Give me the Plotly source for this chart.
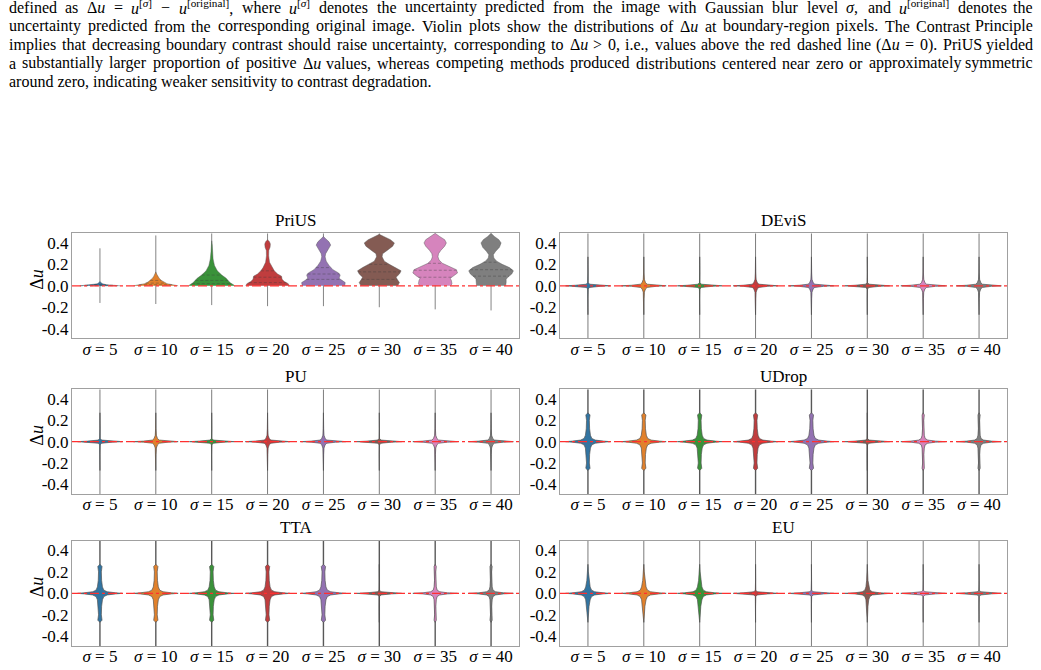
import re
import numpy as np
import plotly.graph_objects as go

W, H = 1041, 670

categories = ["<i>σ</i> = 5", "<i>σ</i> = 10", "<i>σ</i> = 15", "<i>σ</i> = 20",
              "<i>σ</i> = 25", "<i>σ</i> = 30", "<i>σ</i> = 35", "<i>σ</i> = 40"]
methods = ["PriUS", "DEviS", "PU", "UDrop", "TTA", "EU"]
colors = ["#3274a1", "#e1812c", "#3a923a", "#c03d3e", "#9372b2", "#845b53", "#d684bd", "#7f7f7f"]

# ---- PriUS: density profiles (delta-u level, half-width in category units) ----
prius_y = [
    [0, 0.004, 0.01, 0.018, 0.028, 0.04],
    [0, 0.01, 0.02, 0.035, 0.05, 0.07, 0.09, 0.11, 0.13],
    [0, 0.01, 0.025, 0.045, 0.07, 0.1, 0.14, 0.19, 0.25, 0.32, 0.38, 0.42],
    [0, 0.02, 0.04, 0.06, 0.09, 0.11, 0.14, 0.17, 0.22, 0.28, 0.33, 0.36, 0.39, 0.41, 0.43],
    [0, 0.03, 0.05, 0.07, 0.1, 0.12, 0.15, 0.19, 0.23, 0.27, 0.3, 0.34, 0.38, 0.41, 0.44, 0.46],
    [0, 0.03, 0.06, 0.08, 0.11, 0.14, 0.17, 0.2, 0.23, 0.27, 0.3, 0.33, 0.37, 0.4, 0.43, 0.46, 0.48],
    [0, 0.02, 0.05, 0.07, 0.09, 0.12, 0.15, 0.18, 0.21, 0.24, 0.27, 0.3, 0.33, 0.37, 0.4, 0.43, 0.46, 0.49],
    [0, 0.03, 0.06, 0.08, 0.11, 0.14, 0.17, 0.2, 0.23, 0.26, 0.29, 0.32, 0.36, 0.4, 0.43, 0.46, 0.49],
]
prius_w = [
    [0.36, 0.3, 0.12, 0.05, 0.02, 0],
    [0.4, 0.3, 0.2, 0.14, 0.1, 0.06, 0.035, 0.015, 0],
    [0.41, 0.39, 0.34, 0.3, 0.26, 0.18, 0.1, 0.05, 0.025, 0.012, 0.01, 0],
    [0.39, 0.37, 0.3, 0.26, 0.25, 0.18, 0.12, 0.08, 0.035, 0.02, 0.022, 0.045, 0.05, 0.035, 0],
    [0.38, 0.39, 0.33, 0.28, 0.3, 0.27, 0.17, 0.1, 0.05, 0.03, 0.04, 0.09, 0.13, 0.1, 0.04, 0],
    [0.33, 0.36, 0.32, 0.3, 0.36, 0.39, 0.3, 0.18, 0.09, 0.05, 0.06, 0.14, 0.24, 0.27, 0.2, 0.08, 0],
    [0.28, 0.3, 0.29, 0.27, 0.33, 0.4, 0.38, 0.25, 0.13, 0.07, 0.05, 0.06, 0.1, 0.17, 0.2, 0.17, 0.08, 0],
    [0.26, 0.27, 0.27, 0.3, 0.37, 0.4, 0.33, 0.2, 0.1, 0.05, 0.04, 0.08, 0.15, 0.18, 0.14, 0.06, 0],
]
prius_q1 = [0.0, 0.01, 0.02, 0.03, 0.06, 0.06, 0.08, 0.09]
prius_med = [0.005, 0.025, 0.05, 0.08, 0.11, 0.13, 0.145, 0.15]
prius_q3 = [0.012, 0.05, 0.1, 0.14, 0.17, 0.2, 0.21, 0.22]
prius_lo = [-0.16, -0.17, -0.18, -0.19, -0.19, -0.2, -0.22, -0.23]
prius_hi = [0.35, 0.47, 0.49, 0.49, 0.49, 0.49, 0.49, 0.49]

# ---- Other methods: spike-shaped profiles on a shared grid ----
star_y = [-0.27, -0.25, -0.2, -0.12, -0.06, -0.03, -0.015, -0.005, 0,
          0.005, 0.015, 0.03, 0.06, 0.12, 0.2, 0.25, 0.27]
shape_flat = [0, 0, 0, 0, 0, 0.004, 0.03, 0.22, 0.4, 0.22, 0.03, 0.004, 0, 0, 0, 0, 0]
shape_star = [0, 0, 0, 0.004, 0.01, 0.03, 0.06, 0.22, 0.4, 0.22, 0.06, 0.03, 0.01, 0.004, 0, 0, 0]
shape_bulb = [0, 0.038, 0.025, 0.03, 0.045, 0.07, 0.13, 0.28, 0.4, 0.28, 0.13, 0.07, 0.045, 0.03, 0.025, 0.038, 0]
shape_thinbulb = [0, 0.02, 0.01, 0.012, 0.02, 0.035, 0.08, 0.22, 0.4, 0.22, 0.08, 0.035, 0.02, 0.012, 0.01, 0.02, 0]
shape_taper = [0, 0.003, 0.008, 0.02, 0.04, 0.065, 0.12, 0.27, 0.4, 0.27, 0.12, 0.065, 0.04, 0.02, 0.008, 0.003, 0]
shape_thintaper = [0, 0.002, 0.005, 0.012, 0.025, 0.045, 0.09, 0.22, 0.4, 0.22, 0.09, 0.045, 0.025, 0.012, 0.005, 0.002, 0]
shapes = {"flat": shape_flat, "star": shape_star, "bulb": shape_bulb,
          "thinbulb": shape_thinbulb, "taper": shape_taper, "thintaper": shape_thintaper}

devis_shapes = ["flat", "star", "flat", "star", "star", "flat", "star", "star"]
pu_shapes = ["flat", "star", "flat", "star", "star", "flat", "star", "star"]
udrop_shapes = ["bulb", "bulb", "bulb", "bulb", "bulb", "flat", "thinbulb", "thinbulb"]
tta_shapes = ["bulb", "bulb", "bulb", "bulb", "bulb", "flat", "thinbulb", "thinbulb"]
eu_shapes = ["taper", "taper", "taper", "flat", "flat", "thintaper", "flat", "flat"]
other_lo = [-0.49, -0.49, -0.49, -0.49, -0.49, -0.49, -0.49, -0.49]
other_hi = [0.49, 0.49, 0.49, 0.49, 0.49, 0.49, 0.49, 0.49]

ytick_vals = [-0.4, -0.2, 0.0, 0.2, 0.4]
ytick_text = ["-0.4", "-0.2", "0.0", "0.2", "0.4"]

caption_lines = [
    "defined as Δ<i>u</i> = <i>u</i><sup>[<i>σ</i>]</sup> − <i>u</i><sup>[original]</sup>, where <i>u</i><sup>[<i>σ</i>]</sup> denotes the uncertainty predicted from the image with Gaussian blur level <i>σ</i>, and <i>u</i><sup>[original]</sup> denotes the",
    "uncertainty predicted from the corresponding original image. Violin plots show the distributions of Δ<i>u</i> at boundary-region pixels. The Contrast Principle",
    "implies that decreasing boundary contrast should raise uncertainty, corresponding to Δ<i>u</i> > 0, i.e., values above the red dashed line (Δ<i>u</i> = 0). PriUS yielded",
    "a substantially larger proportion of positive Δ<i>u</i> values, whereas competing methods produced distributions centered near zero or approximately symmetric",
    "around zero, indicating weaker sensitivity to contrast degradation.",
]
caption_justify = [True, True, True, True, False]

# ---- layout geometry (pixels) ----
col_x = [(72, 519), (560, 1007)]
row_y = [(233.3, 338.3), (389.3, 494.0), (540.7, 646.0)]
caption_y = [7.5, 26.5, 45, 63.5, 82]
cap_left, cap_right, cap_size = 8, 1034, 16
FONT = "Liberation Serif, Times New Roman, serif"

# Times-metric advance widths (per 1000 em) used to justify caption lines
_tw = dict(zip("abcdefghijklmnopqrstuvwxyz",
               [444, 500, 444, 500, 444, 333, 500, 500, 278, 278, 500, 278, 778, 500, 500, 500, 500,
                333, 389, 278, 500, 500, 722, 500, 500, 444]))
_tw.update(dict(zip("ABCDEFGHIJKLMNOPQRSTUVWXYZ",
                    [722, 667, 667, 722, 611, 556, 722, 722, 333, 389, 722, 611, 889, 722, 722, 556,
                     722, 667, 556, 611, 722, 722, 944, 722, 722, 611])))
_tw.update({c: 500 for c in "0123456789"})
_tw.update({" ": 250, ".": 250, ",": 250, "-": 333, "(": 333, ")": 333, "[": 333, "]": 333,
            "=": 564, ">": 564, "−": 564, "Δ": 612, "σ": 560})


def text_width(html, size):
    w, sup = 0.0, False
    for tok in re.split(r"(<[^>]+>)", html):
        if tok.startswith("<"):
            if tok == "<sup>":
                sup = True
            elif tok == "</sup>":
                sup = False
            continue
        for ch in tok:
            w += _tw.get(ch, 500) / 1000 * size * (0.7 if sup else 1.0)
    return w


fig = go.Figure()
layout = dict(width=W, height=H, margin=dict(l=0, r=0, t=0, b=0),
              paper_bgcolor="white", plot_bgcolor="white", showlegend=False,
              font=dict(family=FONT, size=16, color="black"))
annotations = []

per_method_shapes = {"DEviS": devis_shapes, "PU": pu_shapes, "UDrop": udrop_shapes,
                     "TTA": tta_shapes, "EU": eu_shapes}

for k, m in enumerate(methods):
    r, c = k // 2, k % 2
    sfx = "" if k == 0 else str(k + 1)
    xa, ya = "x" + sfx, "y" + sfx
    x0, x1 = col_x[c]
    yt, yb = row_y[r]
    layout["xaxis" + sfx] = dict(domain=[x0 / W, x1 / W], range=[-0.5, 7.5], anchor=ya,
                                 tickvals=list(range(len(categories))), ticktext=categories,
                                 showline=True, mirror=True, linecolor="#a0a0a0", linewidth=1,
                                 showgrid=False, zeroline=False, ticks="", ticklabelstandoff=-5,
                                 tickfont=dict(family=FONT, size=17, color="black"))
    layout["yaxis" + sfx] = dict(domain=[1 - yb / H, 1 - yt / H], range=[-0.49, 0.49], anchor=xa,
                                 tickvals=ytick_vals, ticktext=ytick_text,
                                 showline=True, mirror=True, linecolor="#a0a0a0", linewidth=1,
                                 showgrid=False, zeroline=False, ticks="", ticklabelstandoff=-1,
                                 tickfont=dict(family=FONT, size=17, color="black"))
    annotations.append(dict(text=m, xref="paper", yref="paper", x=(x0 + x1) / 2 / W,
                            y=1 - (yt - 13) / H, xanchor="center", yanchor="middle",
                            showarrow=False, font=dict(family=FONT, size=17, color="black")))
    if c == 0:
        annotations.append(dict(text="Δ<i>u</i>", xref="paper", yref="paper", x=37 / W,
                                y=1 - ((yt + yb) / 2 - 6) / H, xanchor="center", yanchor="middle",
                                textangle=-90, showarrow=False,
                                font=dict(family=FONT, size=18, color="black")))

    if m == "PriUS":
        lo, hi = prius_lo, prius_hi
        wcol, wwid = "rgba(120,120,120,0.9)", 1.0
    elif m in ("UDrop", "TTA"):
        lo, hi = other_lo, other_hi
        wcol, wwid = "rgba(70,70,70,0.9)", 1.4
    else:
        lo, hi = other_lo, other_hi
        wcol, wwid = "rgba(110,110,110,0.9)", 1.0
    # whiskers
    for i in range(len(categories)):
        fig.add_trace(go.Scatter(x=[i, i], y=[lo[i], hi[i]], mode="lines",
                                 line=dict(color=wcol, width=wwid),
                                 xaxis=xa, yaxis=ya, hoverinfo="skip"))
    # violins
    for i in range(len(categories)):
        if m == "PriUS":
            ys, ws = prius_y[i], prius_w[i]
            lc = "rgba(90,90,90,0.5)"
        else:
            ys, ws = star_y, shapes[per_method_shapes[m][i]]
            lc = "rgba(80,80,80,0.75)"
        xs = [i - w for w in ws] + [i + w for w in ws[::-1]]
        yy = list(ys) + list(ys[::-1])
        fig.add_trace(go.Scatter(x=xs, y=yy, mode="lines", fill="toself", fillcolor=colors[i],
                                 line=dict(color=lc, width=0.9),
                                 xaxis=xa, yaxis=ya, hoverinfo="skip"))
        if m == "PriUS":
            for q in (prius_q1[i], prius_med[i], prius_q3[i]):
                hw = float(np.interp(q, ys, ws))
                fig.add_trace(go.Scatter(x=[i - hw, i + hw], y=[q, q], mode="lines",
                                         line=dict(color="rgba(60,60,60,0.55)", width=0.7, dash="3px,2px"),
                                         xaxis=xa, yaxis=ya, hoverinfo="skip"))
    # zero reference line
    fig.add_trace(go.Scatter(x=[-0.5, 7.5], y=[0, 0], mode="lines",
                             line=dict(color="#ff3030", width=1.3, dash="dashdot"),
                             xaxis=xa, yaxis=ya, hoverinfo="skip"))

# caption, justified word by word like the typeset original
for j, line in enumerate(caption_lines):
    yp = 1 - caption_y[j] / H
    font = dict(family=FONT, size=cap_size, color="black")
    if not caption_justify[j]:
        annotations.append(dict(text=line, xref="paper", yref="paper", x=cap_left / W, y=yp,
                                xanchor="left", yanchor="middle", showarrow=False, font=font,
                                borderpad=0))
        continue
    words = line.split(" ")
    widths = [text_width(wd, cap_size) for wd in words]
    gap = (cap_right - cap_left - sum(widths)) / (len(words) - 1)
    xpos = cap_left
    for n, wd in enumerate(words):
        last = n == len(words) - 1
        annotations.append(dict(text=wd, xref="paper", yref="paper",
                                x=(cap_right if last else xpos) / W, y=yp,
                                xanchor="right" if last else "left", yanchor="middle",
                                showarrow=False, font=font, borderpad=0))
        xpos += widths[n] + gap

layout["annotations"] = annotations
fig.update_layout(**layout)
fig.write_html("out.html")
